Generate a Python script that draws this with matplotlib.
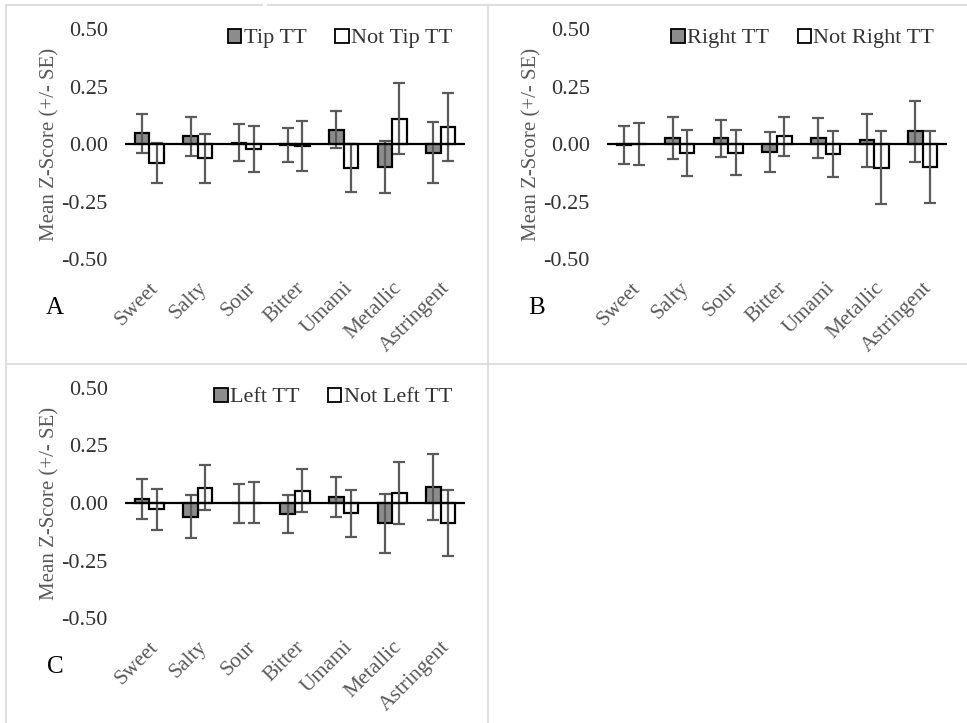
import matplotlib
matplotlib.use("Agg")
import matplotlib.pyplot as plt
import numpy as np
from matplotlib.patches import Patch
from matplotlib.lines import Line2D

plt.rcParams['font.family'] = ['Liberation Serif', 'DejaVu Serif']

categories = ["Sweet", "Salty", "Sour", "Bitter", "Umami", "Metallic", "Astringent"]
y_ticks = [-0.50, -0.25, 0.00, 0.25, 0.50]

# Panel A: tip tongue-taster status
tip_mean = [0.046, 0.033, 0.006, -0.003, 0.062, -0.102, -0.038]
tip_se = [0.083, 0.085, 0.080, 0.074, 0.080, 0.113, 0.132]
not_tip_mean = [-0.083, -0.063, -0.022, -0.008, -0.104, 0.110, 0.074]
not_tip_se = [0.088, 0.106, 0.100, 0.108, 0.106, 0.155, 0.147]

# Panel B: right-side tongue-taster status
right_mean = [-0.005, 0.026, 0.024, -0.034, 0.027, 0.016, 0.055]
right_se = [0.084, 0.090, 0.080, 0.088, 0.086, 0.114, 0.134]
not_right_mean = [0.000, -0.040, -0.038, 0.033, -0.042, -0.103, -0.100]
not_right_se = [0.090, 0.100, 0.097, 0.084, 0.100, 0.158, 0.155]

# Panel C: left-side tongue-taster status
left_mean = [0.018, -0.059, -0.002, -0.048, 0.027, -0.089, 0.070]
left_se = [0.086, 0.092, 0.085, 0.082, 0.086, 0.128, 0.144]
not_left_mean = [-0.028, 0.067, 0.002, 0.054, -0.045, 0.044, -0.087]
not_left_se = [0.088, 0.097, 0.091, 0.094, 0.102, 0.134, 0.144]

W, H = 967, 723
fig = plt.figure(figsize=(W / 100, H / 100), dpi=100)
fig.patch.set_facecolor("white")

FILL = "#8c8c8c"
ERR = "#5a5a5a"
TXT = "#595959"


def panel(left_px, top_px, letter, mean_a, se_a, mean_b, se_b, lab_a, lab_b, leg_x):
    ax = fig.add_axes([left_px / W, 1 - (top_px + 230) / H, 340 / W, 230 / H])
    x = np.arange(len(categories))
    bw = 0.3
    ax.bar(x - bw / 2, mean_a, bw, color=FILL, edgecolor="black", linewidth=1.6, zorder=2)
    ax.bar(x + bw / 2, mean_b, bw, color="white", edgecolor="black", linewidth=1.6, zorder=2)
    ax.errorbar(x - bw / 2, mean_a, yerr=se_a, fmt="none", ecolor=ERR, elinewidth=1.6,
                capsize=4, capthick=1.6, zorder=3)
    ax.errorbar(x + bw / 2, mean_b, yerr=se_b, fmt="none", ecolor=ERR, elinewidth=1.6,
                capsize=4, capthick=1.6, zorder=3)
    ax.axhline(0, color="black", linewidth=1.6, zorder=4)
    ax.set_xlim(-0.5, len(categories) - 0.5)
    ax.set_ylim(-0.5, 0.5)
    ax.set_yticks(y_ticks)
    ax.set_yticklabels([f"{v:.2f}" for v in y_ticks], fontsize=16, color="#333333")
    ax.set_xticks(x)
    ax.set_xticklabels(categories, rotation=45, ha="right", rotation_mode="anchor",
                       fontsize=15.5, color=TXT)
    ax.tick_params(axis="both", length=0)
    ax.tick_params(axis="y", pad=12.5)
    ax.tick_params(axis="x", pad=14)
    for s in ax.spines.values():
        s.set_visible(False)
    ax.set_ylabel("Mean Z-Score (+/- SE)", fontsize=15, color=TXT)
    ax.yaxis.set_label_coords(-0.193, 0.5)
    handles = [Patch(facecolor=FILL, edgecolor="black", linewidth=1.3),
               Patch(facecolor="white", edgecolor="black", linewidth=1.3)]
    ax.legend(handles, [lab_a, lab_b], loc="upper right", bbox_to_anchor=(leg_x, 1.002),
              ncol=2, frameon=False, fontsize=16, handlelength=0.6, handleheight=0.6,
              handletextpad=0.1, columnspacing=1.3, borderpad=0, borderaxespad=0,
              labelcolor="#333333")
    fig.text((left_px - 70) / W, 1 - (top_px + 279) / H, letter, fontsize=18,
             color="black", ha="center", va="center")
    return ax


panel(125, 29, "A", tip_mean, tip_se, not_tip_mean, not_tip_se, "Tip TT", "Not Tip TT", 0.962)
panel(607, 29, "B", right_mean, right_se, not_right_mean, not_right_se,
      "Right TT", "Not Right TT", 0.962)
panel(125, 388, "C", left_mean, left_se, not_left_mean, not_left_se,
      "Left TT", "Not Left TT", 0.962)

# light panel frame lines
LC = "#dedede"


def hline(y, x0, x1):
    fig.add_artist(Line2D([x0 / W, x1 / W], [1 - y / H, 1 - y / H], color=LC, linewidth=1.5))


def vline(x, y0, y1):
    fig.add_artist(Line2D([x / W, x / W], [1 - y0 / H, 1 - y1 / H], color=LC, linewidth=1.5))


hline(5, 6, 262)
hline(5, 268, 967)
hline(364, 6, 967)
vline(6, 5, 723)
vline(488, 5, 723)

fig.savefig("out.png", dpi=100, facecolor="white")
